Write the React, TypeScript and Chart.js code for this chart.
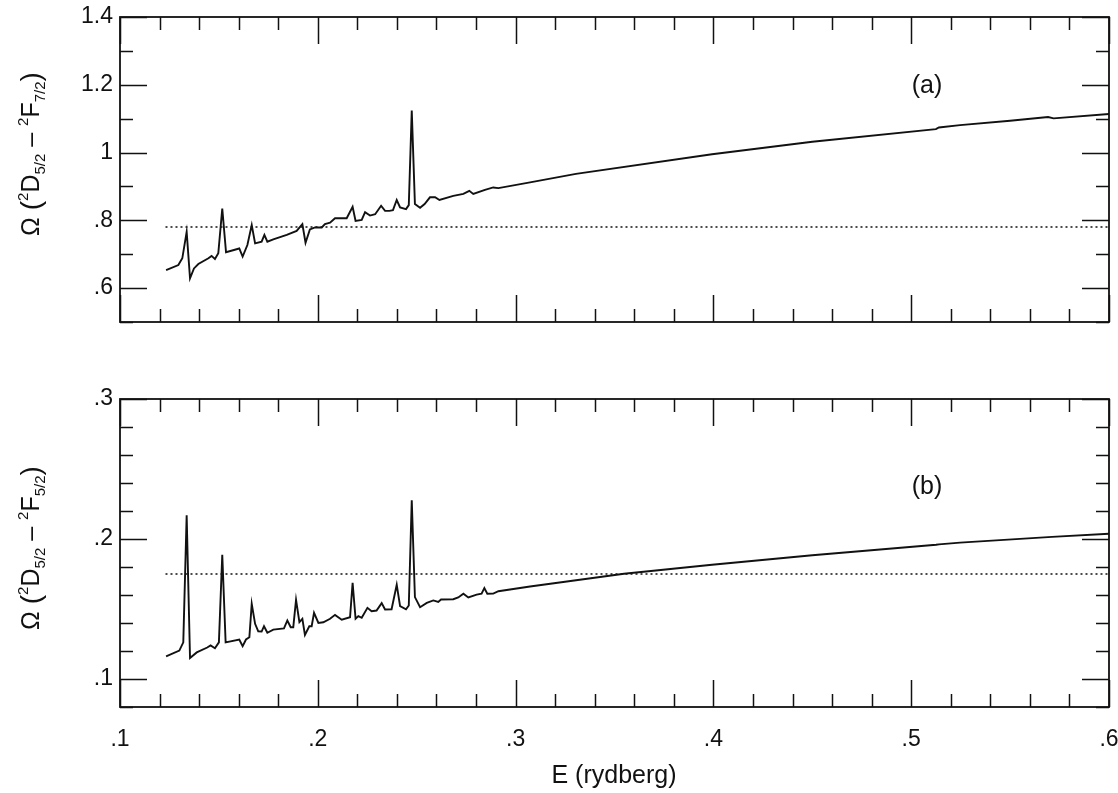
import { useEffect, useRef } from 'react';
import { Chart, registerables } from 'chart.js';

Chart.register(...registerables);

const FONT = '"Liberation Sans", Arial, Helvetica, sans-serif';

// ---- Panel (a): Omega(2D5/2 - 2F7/2) vs E (rydberg)
const energyA = [
  0.1233, 0.1295, 0.1315, 0.1337, 0.1354, 0.1374, 0.1396, 0.1447, 0.1463, 0.1480,
  0.1497, 0.1517, 0.1536, 0.1603, 0.1620, 0.1644, 0.1666, 0.1683, 0.1716, 0.1730,
  0.1745, 0.1775, 0.1843, 0.1893, 0.1922, 0.1938, 0.1960, 0.1986, 0.2020, 0.2036,
  0.2062, 0.2087, 0.2146, 0.2176, 0.2191, 0.2222, 0.2239, 0.2264, 0.2290, 0.2320,
  0.2340, 0.2362, 0.2380, 0.2399, 0.2416, 0.2446, 0.2460, 0.2475, 0.2491, 0.2517,
  0.2540, 0.2567, 0.2593, 0.2615, 0.2685, 0.2736, 0.2766, 0.2786, 0.2845, 0.2887,
  0.2913, 0.3073, 0.3305, 0.3993, 0.4500, 0.5125, 0.5140, 0.5247, 0.5500, 0.5692,
  0.5720, 0.6000,
];
const omegaA = [
  0.653, 0.668, 0.688, 0.766, 0.629, 0.658, 0.671, 0.688, 0.695, 0.686,
  0.703, 0.835, 0.706, 0.717, 0.693, 0.727, 0.786, 0.732, 0.737, 0.757,
  0.737, 0.744, 0.757, 0.769, 0.789, 0.734, 0.773, 0.779, 0.779, 0.789,
  0.793, 0.806, 0.806, 0.840, 0.798, 0.801, 0.824, 0.814, 0.818, 0.843,
  0.828, 0.828, 0.830, 0.860, 0.838, 0.833, 0.845, 1.124, 0.848, 0.837,
  0.848, 0.868, 0.868, 0.860, 0.872, 0.878, 0.887, 0.878, 0.890, 0.897,
  0.895, 0.912, 0.937, 0.995, 1.032, 1.069, 1.074, 1.081, 1.094, 1.105,
  1.101, 1.114,
];

// ---- Panel (b): Omega(2D5/2 - 2F5/2) vs E (rydberg)
const energyB = [
  0.1233, 0.1300, 0.1320, 0.1337, 0.1354, 0.1388, 0.1441, 0.1458, 0.1480, 0.1500,
  0.1517, 0.1534, 0.1603, 0.1620, 0.1637, 0.1654, 0.1666, 0.1683, 0.1699, 0.1716,
  0.1728, 0.1745, 0.1775, 0.1829, 0.1846, 0.1863, 0.1876, 0.1890, 0.1907, 0.1922,
  0.1935, 0.1957, 0.1969, 0.1981, 0.2003, 0.2028, 0.2062, 0.2087, 0.2121, 0.2163,
  0.2176, 0.2191, 0.2205, 0.2222, 0.2251, 0.2272, 0.2297, 0.2323, 0.2340, 0.2373,
  0.2399, 0.2416, 0.2446, 0.2460, 0.2475, 0.2491, 0.2517, 0.2551, 0.2584, 0.2609,
  0.2623, 0.2685, 0.2710, 0.2736, 0.2761, 0.2803, 0.2828, 0.2842, 0.2857, 0.2887,
  0.2913, 0.3073, 0.3548, 0.3993, 0.4500, 0.5126, 0.5140, 0.5247, 0.5712, 0.6000,
];
const omegaB = [
  0.1162, 0.1203, 0.1262, 0.2169, 0.1150, 0.1190, 0.1225, 0.1240, 0.1220, 0.1262,
  0.1888, 0.1262, 0.1282, 0.1234, 0.1282, 0.1298, 0.1537, 0.1394, 0.1341, 0.1339,
  0.1377, 0.1330, 0.1353, 0.1362, 0.1418, 0.1370, 0.1370, 0.1566, 0.1406, 0.1430,
  0.1315, 0.1377, 0.1377, 0.1473, 0.1401, 0.1405, 0.1430, 0.1458, 0.1423, 0.1441,
  0.1687, 0.1430, 0.1449, 0.1437, 0.1508, 0.1484, 0.1489, 0.1542, 0.1496, 0.1498,
  0.1673, 0.1520, 0.1498, 0.1525, 0.2277, 0.1585, 0.1513, 0.1544, 0.1561, 0.1551,
  0.1568, 0.1570, 0.1582, 0.1609, 0.1582, 0.1603, 0.1610, 0.1649, 0.1609, 0.1610,
  0.1627, 0.1661, 0.1752, 0.1816, 0.1884, 0.1959, 0.1962, 0.1974, 0.2015, 0.2038,
];

// ---- Dotted reference levels
const refEnergy = [0.123, 0.6];
const refLevelA = [0.78, 0.78];
const refLevelB = [0.175, 0.175];

// ---- Axes
const xRange = [0.1, 0.6];
const xStep = 0.02;
const xMajor = 0.1;
const yRangeA = [0.5, 1.4];
const yStepA = 0.1;
const yMajorA = 0.2;
const yRangeB = [0.08, 0.3];
const yStepB = 0.02;
const yMajorB = 0.1;

const xTitle = 'E (rydberg)';
const panelLabelA = '(a)';
const panelLabelB = '(b)';

type Part = { t: string; k: 'n' | 'sup' | 'sub' | 'p' };
const yTitleA: Part[] = [
  { t: 'Ω ', k: 'n' }, { t: '(', k: 'p' }, { t: '2', k: 'sup' }, { t: 'D', k: 'n' },
  { t: '5/2', k: 'sub' }, { t: ' – ', k: 'n' }, { t: '2', k: 'sup' }, { t: 'F', k: 'n' },
  { t: '7/2', k: 'sub' }, { t: ')', k: 'p' },
];
const yTitleB: Part[] = [
  { t: 'Ω ', k: 'n' }, { t: '(', k: 'p' }, { t: '2', k: 'sup' }, { t: 'D', k: 'n' },
  { t: '5/2', k: 'sub' }, { t: ' – ', k: 'n' }, { t: '2', k: 'sup' }, { t: 'F', k: 'n' },
  { t: '5/2', k: 'sub' }, { t: ')', k: 'p' },
];

const INK = '#111';
const TICK_FONT = 23;

function isMultiple(v: number, step: number) {
  const r = v / step;
  return Math.abs(r - Math.round(r)) < 1e-6;
}
function fmtTick(v: number) {
  const s = String(parseFloat(v.toFixed(4)));
  return s.startsWith('0.') ? s.slice(1) : s;
}

function partFont(k: Part['k']) {
  if (k === 'sup' || k === 'sub') return `15px ${FONT}`;
  if (k === 'p') return `28px ${FONT}`;
  return `25px ${FONT}`;
}
function partDy(k: Part['k']) {
  if (k === 'sup') return -11;
  if (k === 'sub') return 6;
  if (k === 'p') return 1;
  return 0;
}

function drawRichRotated(ctx: CanvasRenderingContext2D, parts: Part[], cx: number, cy: number) {
  ctx.save();
  ctx.translate(cx, cy);
  ctx.rotate(-Math.PI / 2);
  ctx.textAlign = 'left';
  ctx.textBaseline = 'alphabetic';
  ctx.fillStyle = INK;
  let total = 0;
  for (const p of parts) {
    ctx.font = partFont(p.k);
    total += ctx.measureText(p.t).width;
  }
  let x = -total / 2;
  const base = 9;
  for (const p of parts) {
    ctx.font = partFont(p.k);
    ctx.fillText(p.t, x, base + partDy(p.k));
    x += ctx.measureText(p.t).width;
  }
  ctx.restore();
}

type DecorCfg = {
  yMajor: number;
  yTitle: Part[];
  titleCy: number;
  panel: string;
  panelX: number;
  panelY: number;
  xTitleY?: number;
};

function makeDecor(cfg: DecorCfg) {
  return {
    id: 'decor',
    afterDraw(chart: any) {
      const ctx: CanvasRenderingContext2D = chart.ctx;
      const { left, right, top, bottom } = chart.chartArea;
      const xs = chart.scales.x;
      const ys = chart.scales.y;
      ctx.save();
      ctx.strokeStyle = INK;
      ctx.lineWidth = 1.8;
      ctx.strokeRect(left, top, right - left, bottom - top);
      ctx.lineWidth = 1.5;
      ctx.beginPath();
      for (const t of xs.ticks) {
        const px = Math.round(xs.getPixelForValue(t.value)) + 0.5;
        const len = isMultiple(t.value, xMajor) ? 27 : 13;
        ctx.moveTo(px, top);
        ctx.lineTo(px, top + len);
        ctx.moveTo(px, bottom);
        ctx.lineTo(px, bottom - len);
      }
      for (const t of ys.ticks) {
        const py = Math.round(ys.getPixelForValue(t.value)) + 0.5;
        const len = isMultiple(t.value, cfg.yMajor) ? 27 : 13;
        ctx.moveTo(left, py);
        ctx.lineTo(left + len, py);
        ctx.moveTo(right, py);
        ctx.lineTo(right - len, py);
      }
      ctx.stroke();

      drawRichRotated(ctx, cfg.yTitle, 30, cfg.titleCy);

      ctx.fillStyle = INK;
      ctx.font = `25px ${FONT}`;
      ctx.textAlign = 'center';
      ctx.textBaseline = 'middle';
      ctx.fillText(cfg.panel, cfg.panelX, cfg.panelY);
      if (cfg.xTitleY !== undefined) {
        ctx.font = `25px ${FONT}`;
        ctx.fillText(xTitle, 614, cfg.xTitleY);
      }
      ctx.restore();
    },
  };
}

function buildConfig(opts: {
  energy: number[];
  omega: number[];
  ref: number[];
  yRange: number[];
  yStep: number;
  yMajor: number;
  showX: boolean;
  padTop: number;
  padBottom: number;
  xHeight: number;
  decor: DecorCfg;
}) {
  return {
    type: 'line' as const,
    data: {
      datasets: [
        {
          data: opts.energy.map((e, i) => ({ x: e, y: opts.omega[i] })),
          borderColor: INK,
          borderWidth: 1.9,
          pointRadius: 0,
          tension: 0,
          fill: false,
        },
        {
          data: refEnergy.map((e, i) => ({ x: e, y: opts.ref[i] })),
          borderColor: INK,
          borderWidth: 1.5,
          borderDash: [2, 3],
          pointRadius: 0,
          fill: false,
        },
      ],
    },
    options: {
      responsive: false,
      animation: false,
      devicePixelRatio: 1,
      layout: { padding: { left: 0, right: 9, top: opts.padTop, bottom: opts.padBottom } },
      plugins: {
        legend: { display: false },
        tooltip: { enabled: false },
        title: { display: false },
      },
      scales: {
        x: {
          type: 'linear',
          min: xRange[0],
          max: xRange[1],
          grid: { display: false, drawTicks: false },
          border: { display: false },
          ticks: {
            stepSize: xStep,
            maxTicksLimit: 200,
            autoSkip: false,
            maxRotation: 0,
            minRotation: 0,
            display: opts.showX,
            padding: 19,
            color: INK,
            font: { family: FONT, size: TICK_FONT },
            callback: (v: any) => (isMultiple(Number(v), xMajor) ? fmtTick(Number(v)) : ''),
          },
          afterFit: (s: any) => {
            s.height = opts.xHeight;
            s.paddingLeft = 0;
            s.paddingRight = 0;
          },
        },
        y: {
          type: 'linear',
          min: opts.yRange[0],
          max: opts.yRange[1],
          grid: { display: false, drawTicks: false },
          border: { display: false },
          ticks: {
            stepSize: opts.yStep,
            maxTicksLimit: 200,
            autoSkip: false,
            padding: 7,
            color: INK,
            font: { family: FONT, size: TICK_FONT },
            callback: (v: any) => (isMultiple(Number(v), opts.yMajor) ? fmtTick(Number(v)) : ''),
          },
          afterFit: (s: any) => {
            s.width = 120;
            s.paddingTop = 0;
            s.paddingBottom = 0;
          },
        },
      },
    },
    plugins: [makeDecor(opts.decor)],
  };
}

export default function App() {
  const refA = useRef<HTMLCanvasElement | null>(null);
  const refB = useRef<HTMLCanvasElement | null>(null);

  useEffect(() => {
    if (!refA.current || !refB.current) return;
    const chartA = new Chart(
      refA.current,
      buildConfig({
        energy: energyA,
        omega: omegaA,
        ref: refLevelA,
        yRange: yRangeA,
        yStep: yStepA,
        yMajor: yMajorA,
        showX: false,
        padTop: 17,
        padBottom: 18,
        xHeight: 0,
        decor: { yMajor: yMajorA, yTitle: yTitleA, titleCy: 154, panel: panelLabelA, panelX: 927, panelY: 86 },
      }) as any
    );
    const chartB = new Chart(
      refB.current,
      buildConfig({
        energy: energyB,
        omega: omegaB,
        ref: refLevelB,
        yRange: yRangeB,
        yStep: yStepB,
        yMajor: yMajorB,
        showX: true,
        padTop: 19,
        padBottom: 0,
        xHeight: 86,
        decor: {
          yMajor: yMajorB,
          yTitle: yTitleB,
          titleCy: 168,
          panel: panelLabelB,
          panelX: 927,
          panelY: 107,
          xTitleY: 396,
        },
      }) as any
    );
    return () => {
      chartA.destroy();
      chartB.destroy();
    };
  }, []);

  return (
    <div style={{ position: 'absolute', left: 0, top: 0, width: 1118, height: 793, background: '#fff' }}>
      <canvas ref={refA} width={1118} height={340} style={{ position: 'absolute', left: 0, top: 0 }} />
      <canvas ref={refB} width={1118} height={413} style={{ position: 'absolute', left: 0, top: 380 }} />
    </div>
  );
}
